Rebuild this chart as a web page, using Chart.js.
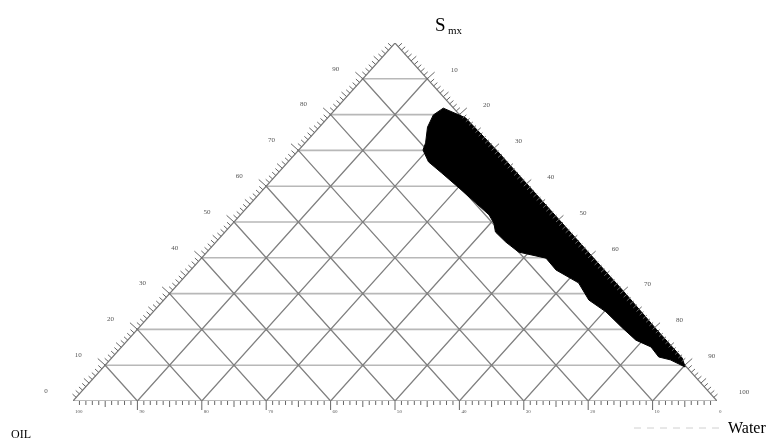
<!DOCTYPE html>
<html>
<head>
<meta charset="utf-8">
<script src="https://cdn.jsdelivr.net/npm/chart.js@4.4.0/dist/chart.umd.min.js"></script>
<style>
  html, body { margin: 0; padding: 0; background: #fff; }
  #wrap { width: 772px; height: 439px; }
</style>
</head>
<body>
<div id="wrap"><canvas id="ternary" width="772" height="439"></canvas></div>
<script>
// ternary grid steps (%)
const gridSteps = [10, 20, 30, 40, 50, 60, 70, 80, 90]
// tick labels
const smxLabels = ['0', '10', '20', '30', '40', '50', '60', '70', '80', '90']      // left side, Smx = 0..90
const waterLabels = ['10', '20', '30', '40', '50', '60', '70', '80', '90', '100'] // right side, Water = 10..100
const oilLabels = ['100', '90', '80', '70', '60', '50', '40', '30', '20', '10', '0'] // bottom, Oil = 100..0

// microemulsion region outline (Smx %, Water %; Oil = rest)
const regionSmx = [81.8, 79.1, 70, 60, 50, 40, 30, 20, 12, 9.5,
  11.5, 12.3, 15.1, 17.0, 20.7, 24.9, 28.2, 33.0, 36.6, 39.9, 41.6, 44.4, 47.2,
  49.7, 52.0, 55.3, 59.5, 63.7, 66.8, 70.1, 72.1, 76.5, 79.9, 81.8]
const regionWater = [16.6, 21.4, 30.8, 40.8, 50.8, 60.8, 70.8, 80.6, 88.6, 90.3,
  87.0, 84.8, 82.2, 78.9, 74.8, 70.3, 66.0, 62.0, 56.7, 53.5, 48.4, 45.0, 42.0,
  40.5, 38.6, 34.9, 30.2, 25.4, 21.8, 19.3, 18.7, 16.8, 16.0, 16.6]

// Smx at top, Water at bottom-right, Oil at bottom-left
const toXY = (s, w) => ({ x: w + s / 2, y: s })
const gap = { x: null, y: null }

const horizontals = []
const diagonals = []
gridSteps.forEach(k => {
  horizontals.push(toXY(k, 0), toXY(k, 100 - k), gap)
  diagonals.push(toXY(0, k), toXY(100 - k, k), gap)           // constant water
  diagonals.push(toXY(0, 100 - k), toXY(100 - k, 0), gap)     // constant oil
})
const edges = [toXY(0, 0), toXY(0, 100), toXY(100, 0), toXY(0, 0)]
const region = regionSmx.map((s, i) => toXY(s, regionWater[i]))

const pixelOf = (chart, s, w) => {
  const p = toXY(s, w)
  return [chart.scales.x.getPixelForValue(p.x), chart.scales.y.getPixelForValue(p.y)]
}

const decor = {
  id: 'decor',
  beforeDatasetsDraw(chart) {
    // intersection dots, under the region
    const ctx = chart.ctx
    ctx.save()
    ctx.fillStyle = '#666'
    gridSteps.forEach(s => {
      for (let w = 0; w <= 100 - s; w += 10) {
        const [a, b] = pixelOf(chart, s, w)
        ctx.fillRect(a - 1, b - 1, 2, 2)
      }
    })
    ctx.restore()
  },
  afterDatasetsDraw(chart) {
    const ctx = chart.ctx
    const px = (s, w) => pixelOf(chart, s, w)
    const [lx, ly] = px(0, 0)
    const [rx, ry] = px(0, 100)
    const [tx, ty] = px(100, 0)
    const norm = (a, b) => { const l = Math.hypot(a, b); return [a / l, b / l] }
    const nLeft = norm(-(ly - ty), -(tx - lx))
    const nRight = norm(ry - ty, -(rx - tx))

    ctx.save()
    ctx.strokeStyle = '#666'
    ctx.lineWidth = 1
    ctx.beginPath()
    for (let t = 1; t < 100; t++) {
      const len = t % 10 === 0 ? 10 : (t % 5 === 0 ? 7 : 5)
      let [a, b] = px(t, 0)
      ctx.moveTo(a, b); ctx.lineTo(a + nLeft[0] * len, b + nLeft[1] * len)
      ;[a, b] = px(100 - t, t)
      ctx.moveTo(a, b); ctx.lineTo(a + nRight[0] * len, b + nRight[1] * len)
      ;[a, b] = px(0, t)
      ctx.moveTo(a, b); ctx.lineTo(a, b + (t % 10 === 0 ? 9 : (t % 5 === 0 ? 6 : 4)))
    }
    ctx.stroke()

    ctx.fillStyle = '#555'
    ctx.font = '7px "Liberation Serif"'
    ctx.textAlign = 'center'
    ctx.textBaseline = 'middle'
    smxLabels.forEach((lab, i) => {
      const [a, b] = px(i * 10, 0)
      ctx.fillText(lab, a - 27, b - 10)
    })
    waterLabels.forEach((lab, i) => {
      const w = (i + 1) * 10
      const [a, b] = px(100 - w, w)
      ctx.fillText(lab, a + 27, b - 9)
    })
    ctx.font = '5px "Liberation Serif"'
    ctx.textAlign = 'left'
    oilLabels.forEach((lab, i) => {
      const [a, b] = px(0, i * 10)
      ctx.fillText(lab, a + 2, b + 11)
    })

    ctx.fillStyle = '#000'
    ctx.textBaseline = 'alphabetic'
    ctx.font = '19px "Liberation Serif"'
    ctx.fillText('S', 435, 31)
    ctx.font = '11px "Liberation Serif"'
    ctx.fillText('mx', 448, 34)
    ctx.font = '12px "Liberation Serif"'
    ctx.fillText('OIL', 11, 438)
    ctx.font = '16px "Liberation Serif"'
    ctx.fillText('Water', 728, 433)

    ctx.strokeStyle = '#d0d0d0'
    ctx.setLineDash([7, 6])
    ctx.beginPath()
    ctx.moveTo(634, 428); ctx.lineTo(725, 428)
    ctx.stroke()
    ctx.restore()
  }
}

new Chart(document.getElementById('ternary'), {
  type: 'scatter',
  data: {
    datasets: [
      { data: region, showLine: true, fill: 'shape', backgroundColor: '#000', borderColor: '#000', borderWidth: 1, pointRadius: 0 },
      { data: edges, showLine: true, borderColor: '#7a7a7a', borderWidth: 1.2, pointRadius: 0 },
      { data: diagonals, showLine: true, spanGaps: false, borderColor: '#808080', borderWidth: 1.3, pointRadius: 0 },
      { data: horizontals, showLine: true, spanGaps: false, borderColor: '#b8b8b8', borderWidth: 1.6, pointRadius: 0 }
    ]
  },
  options: {
    responsive: false,
    animation: false,
    layout: { padding: { left: 73, right: 55, top: 43, bottom: 38 } },
    scales: {
      x: { type: 'linear', min: 0, max: 100, display: false },
      y: { type: 'linear', min: 0, max: 100, display: false }
    },
    plugins: { legend: { display: false }, tooltip: { enabled: false } }
  },
  plugins: [decor]
})
</script>
</body>
</html>
